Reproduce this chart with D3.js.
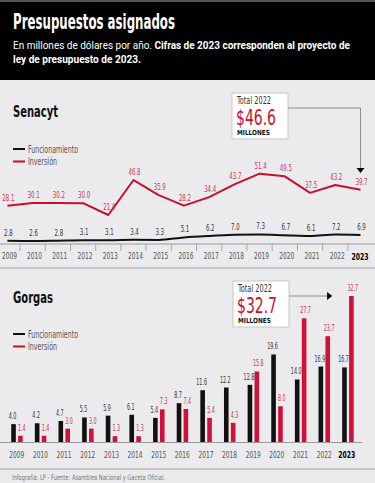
<!DOCTYPE html>
<html>
<head>
<meta charset="utf-8">
<script src="https://cdn.jsdelivr.net/npm/d3@7"></script>
<style>
  body { margin: 0; background: #ebebed; }
  svg { display: block; }
  text { font-family: "Liberation Sans Narrow", "DejaVu Sans Condensed", "Roboto", sans-serif; }
  .sub { font-family: "Roboto", "Liberation Sans", sans-serif; }
</style>
</head>
<body>
<div id="chart"></div>
<script>
// data
var years = ["2009","2010","2011","2012","2013","2014","2015","2016","2017","2018","2019","2020","2021","2022","2023"];
var senacytFunc = [2.8, 2.6, 2.8, 3.1, 3.1, 3.4, 3.3, 5.1, 6.2, 7.0, 7.3, 6.7, 6.1, 7.2, 6.9];
var senacytInv = [28.1, 30.1, 30.2, 30.0, 21.4, 46.8, 35.9, 28.2, 34.4, 43.7, 51.4, 49.5, 37.5, 43.2, 39.7];
var gorgasFunc = [4.0, 4.2, 4.7, 5.5, 5.9, 6.1, 5.4, 8.7, 11.6, 12.2, 12.8, 19.6, 14.0, 16.9, 16.7];
var gorgasInv = [1.4, 1.4, 3.0, 3.0, 1.3, 1.3, 7.3, 7.4, 5.4, 4.3, 15.8, 8.0, 27.7, 23.7, 32.7];
var legendNames = ["Funcionamiento", "Inversión"];

var W = 375, H = 483;
var RED = "#c8102e", LBLRED = "#c4375a", BLACK = "#111";

// narrow text: squeeze glyphs to a width close to the reference
function narrow(sel, perChar) {
  sel.each(function() {
    var t = d3.select(this);
    var s = t.text();
    var w = 0;
    for (var i = 0; i < s.length; i++) w += (s[i] === "." ? 0.45 : 1) * perChar;
    t.attr("textLength", w).attr("lengthAdjust", "spacingAndGlyphs");
  });
}

var svg = d3.select("#chart").append("svg")
  .attr("width", W).attr("height", H);

svg.append("rect").attr("width", W).attr("height", H).attr("fill", "#ebebed");

// header
svg.append("rect").attr("x", 0).attr("y", 0).attr("width", W).attr("height", 2).attr("fill", "#555");
svg.append("rect").attr("x", 0).attr("y", 2).attr("width", W).attr("height", 78).attr("fill", "#000");
svg.append("text").attr("x", 13).attr("y", 29)
  .attr("fill", "#fff").attr("font-weight", "bold").attr("font-size", 21)
  .attr("textLength", 162).attr("lengthAdjust", "spacingAndGlyphs")
  .text("Presupuestos asignados");
var s1 = svg.append("text").attr("class", "sub").attr("x", 13).attr("y", 49)
  .attr("fill", "#fff").attr("font-size", 11)
  .attr("textLength", 337).attr("lengthAdjust", "spacingAndGlyphs");
s1.append("tspan").text("En millones de dólares por año. ");
s1.append("tspan").attr("font-weight", "bold").text("Cifras de 2023 corresponden al proyecto de");
svg.append("text").attr("class", "sub").attr("x", 13).attr("y", 63)
  .attr("fill", "#fff").attr("font-size", 11).attr("font-weight", "bold")
  .attr("textLength", 128).attr("lengthAdjust", "spacingAndGlyphs")
  .text("ley de presupuesto de 2023.");

function sectionTitle(txt, y, w) {
  svg.append("text").attr("x", 13).attr("y", y)
    .attr("fill", "#111").attr("font-weight", "bold").attr("font-size", 16)
    .attr("textLength", w).attr("lengthAdjust", "spacingAndGlyphs")
    .text(txt);
}

function legend(y0) {
  var colors = [BLACK, RED];
  var widths = [50, 29];
  legendNames.forEach(function(n, i) {
    var y = y0 + i * 12.5;
    svg.append("line").attr("x1", 13).attr("x2", 25).attr("y1", y).attr("y2", y)
      .attr("stroke", colors[i]).attr("stroke-width", 2);
    svg.append("text").attr("x", 28).attr("y", y + 3.5)
      .attr("fill", "#555").attr("font-size", 10)
      .attr("textLength", widths[i]).attr("lengthAdjust", "spacingAndGlyphs").text(n);
  });
}

function totalBox(x, y, value) {
  var g = svg.append("g").attr("transform", "translate(" + x + "," + y + ")");
  g.append("rect").attr("width", 56).attr("height", 46)
    .attr("fill", "#fff").attr("stroke", "#bbb").attr("stroke-width", 0.8);
  g.append("text").attr("x", 5).attr("y", 11).attr("font-size", 10).attr("fill", "#333")
    .attr("textLength", 34).attr("lengthAdjust", "spacingAndGlyphs").text("Total 2022");
  g.append("text").attr("x", 4).attr("y", 32).attr("font-size", 22).attr("fill", RED)
    .attr("textLength", 40).attr("lengthAdjust", "spacingAndGlyphs").text(value);
  g.append("text").attr("x", 5).attr("y", 42).attr("font-size", 7).attr("font-weight", "bold")
    .attr("fill", "#111").attr("textLength", 33).attr("lengthAdjust", "spacingAndGlyphs").text("MILLONES");
}

function yearAxis(scale, y, x1, x2, ticksBetween, dx) {
  svg.append("line").attr("x1", x1).attr("x2", x2).attr("y1", y).attr("y2", y)
    .attr("stroke", "#999").attr("stroke-width", 1);
  var ax = svg.append("g").attr("transform", "translate(" + dx + "," + y + ")")
    .call(d3.axisBottom(scale).tickSize(0).tickPadding(9));
  ax.select(".domain").remove();
  ax.selectAll("text")
    .style("font-family", "'Liberation Sans Narrow', 'DejaVu Sans Condensed', sans-serif")
    .attr("font-size", 9).attr("fill", "#555")
    .attr("textLength", 15).attr("lengthAdjust", "spacingAndGlyphs")
    .filter(function(d) { return d === "2023"; })
    .attr("font-size", 9.5).attr("font-weight", "bold").attr("fill", "#000")
    .attr("textLength", 17).attr("dx", -dx - 1);
  if (ticksBetween) {
    var step = scale.step ? scale.step() : 0;
    years.slice(0, -1).forEach(function(yr) {
      var tx = scale(yr) + (scale.bandwidth ? scale.bandwidth() : 0) + step / 2;
      svg.append("line").attr("x1", tx).attr("x2", tx).attr("y1", y).attr("y2", y + 7)
        .attr("stroke", "#999").attr("stroke-width", 0.8);
    });
  }
}

// ---------- Senacyt ----------
sectionTitle("Senacyt", 117, 45);
legend(149);

var xs = d3.scalePoint().domain(years).range([7.4, 360.5]);
var ys = d3.scaleLinear().domain([0, 51.4]).range([244.5, 173.7]);

yearAxis(xs, 244, 0, 375, true, 1.5);

var sFunc = years.map(function(d, i) { return { year: d, v: senacytFunc[i] }; });
var sInv = years.map(function(d, i) { return { year: d, v: senacytInv[i] }; });

svg.append("path").datum(sFunc)
  .attr("fill", "none").attr("stroke", BLACK).attr("stroke-width", 2)
  .attr("d", d3.line().x(function(d) { return xs(d.year); }).y(function(d) { return ys(d.v); }).curve(d3.curveMonotoneX));
svg.append("path").datum(sInv)
  .attr("fill", "none").attr("stroke", RED).attr("stroke-width", 2).attr("stroke-linejoin", "round")
  .attr("d", d3.line().x(function(d) { return xs(d.year); }).y(function(d) { return ys(d.v); }));

svg.selectAll(".sfl").data(sFunc).enter().append("text")
  .attr("x", function(d) { return xs(d.year) + 1; })
  .attr("y", function(d) { return ys(d.v) - 5; })
  .attr("text-anchor", "middle").attr("font-size", 8.5).attr("fill", "#333")
  .text(function(d) { return d.v.toFixed(1); })
  .call(narrow, 3.5);
svg.selectAll(".sil").data(sInv).enter().append("text")
  .attr("x", function(d) { return xs(d.year) + 1; })
  .attr("y", function(d) { return ys(d.v) - 5; })
  .attr("text-anchor", "middle").attr("font-size", 8.5).attr("fill", LBLRED)
  .text(function(d) { return d.v.toFixed(1); })
  .call(narrow, 3.5);

totalBox(232, 93, "$46.6");
// connector to 2023
var sx = xs("2023");
svg.append("path").attr("d", "M288,108H" + sx + "V168")
  .attr("fill", "none").attr("stroke", "#777").attr("stroke-width", 0.8);
svg.append("path").attr("d", "M" + (sx - 4) + ",168H" + (sx + 4) + "L" + sx + ",173Z").attr("fill", "#000");

// separator
svg.append("line").attr("x1", 0).attr("x2", W).attr("y1", 268).attr("y2", 268)
  .attr("stroke", "#c8c8ca").attr("stroke-width", 2);

// ---------- Gorgas ----------
sectionTitle("Gorgas", 303, 40);
legend(334);

var xg = d3.scaleBand().domain(years).range([5, 359.6]).padding(0);
var yg = d3.scaleLinear().domain([0, 32.7]).range([442, 296]);

var bw = 4.6;
var gData = years.map(function(d, i) { return { year: d, f: gorgasFunc[i], inv: gorgasInv[i] }; });
var grp = svg.selectAll(".grp").data(gData).enter().append("g")
  .attr("transform", function(d) { return "translate(" + (xg(d.year) + xg.bandwidth() / 2) + ",0)"; });

grp.append("rect").attr("x", -3.3 - bw / 2).attr("width", bw)
  .attr("y", function(d) { return yg(d.f); })
  .attr("height", function(d) { return yg(0) - yg(d.f); })
  .attr("fill", BLACK);
grp.append("rect").attr("x", 3.6 - bw / 2).attr("width", bw)
  .attr("y", function(d) { return yg(d.inv); })
  .attr("height", function(d) { return yg(0) - yg(d.inv); })
  .attr("fill", "#d0103a");
grp.append("text").attr("x", -4.3).attr("y", function(d) { return yg(d.f) - 5; })
  .attr("text-anchor", "middle").attr("font-size", 8).attr("fill", "#333")
  .text(function(d) { return d.f.toFixed(1); })
  .call(narrow, 3.1);
grp.append("text").attr("x", 5).attr("y", function(d) { return yg(d.inv) - 5; })
  .attr("text-anchor", "middle").attr("font-size", 8).attr("fill", LBLRED)
  .text(function(d) { return d.inv.toFixed(1); })
  .call(narrow, 3.1);

yearAxis(xg, 442.5, 0, 362, false, 0);

totalBox(233, 281, "$32.7");
var gx = xg("2022") + xg.bandwidth() / 2 + 8;
svg.append("line").attr("x1", 289).attr("x2", gx).attr("y1", 296).attr("y2", 296)
  .attr("stroke", "#777").attr("stroke-width", 0.8);
svg.append("path").attr("d", "M" + (gx - 5) + ",292V300L" + gx + ",296Z").attr("fill", "#000");

// footer
svg.append("line").attr("x1", 0).attr("x2", W).attr("y1", 469).attr("y2", 469)
  .attr("stroke", "#bdbdbf").attr("stroke-width", 1.5);
svg.append("text").attr("x", 12).attr("y", 479.5).attr("font-size", 7.5).attr("fill", "#777")
  .attr("textLength", 153).attr("lengthAdjust", "spacingAndGlyphs")
  .text("Infografía: LP - Fuente: Asamblea Nacional y Gaceta Oficial.");
</script>
</body>
</html>
